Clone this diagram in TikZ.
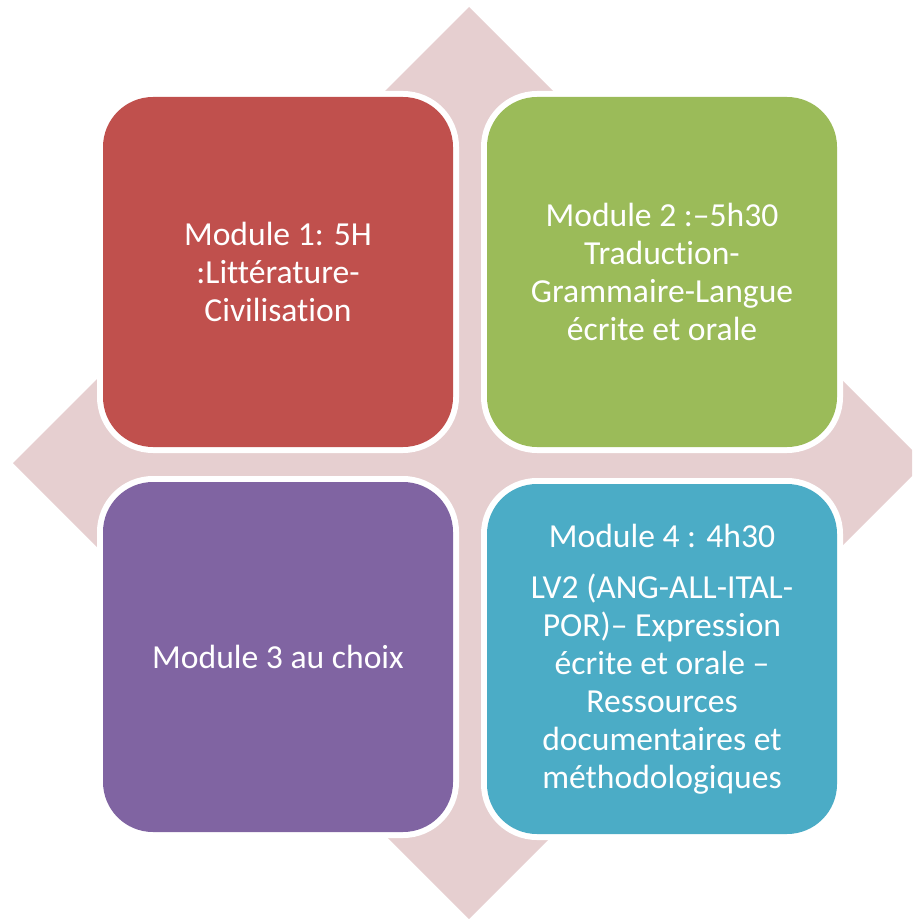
\documentclass[tikz,border=0pt]{standalone}
\usepackage{fontspec}
\setmainfont[Ligatures={NoCommon}]{Carlito}
\definecolor{cred}{HTML}{C0504D}
\definecolor{cgreen}{HTML}{9BBB59}
\definecolor{cpurple}{HTML}{8064A2}
\definecolor{cteal}{HTML}{4BACC6}
\definecolor{cdiam}{HTML}{E6CFD0}
\tikzset{
  modbox/.style={rectangle, rounded corners=37.5pt, minimum width=262.5pt, minimum height=262.5pt,
    inner sep=0pt, preaction={draw=white, line width=9pt}, text=white, align=center,
    font=\fontsize{25.2pt}{28.4pt}\selectfont}
}
\begin{document}
\begin{tikzpicture}[x=0.75pt,y=-0.75pt]
\useasboundingbox (0,0) rectangle (912,919);
\begin{scope}
\clip (0,0) rectangle (912,919);
\fill[cdiam] (469,7) -- (925,463) -- (469,919) -- (13,463) -- cycle;
\end{scope}
\node[modbox, fill=cred] (m1) at (278,272) {Module 1: 5H\\:Littérature-\\Civilisation};
\node[modbox, fill=cgreen] (m2) at (662,272) {Module 2 :–5h30\\Traduction-\\Grammaire-Langue\\écrite et orale};
\node[modbox, fill=cpurple] (m3) at (278,657) {Module 3 au choix};
\node[modbox, fill=cteal] (m4) at (662,659) {Module 4 : 4h30\\[10pt]LV2 (ANG-ALL-ITAL-\\POR)– Expression\\écrite et orale –\\Ressources\\documentaires et\\méthodologiques};
\end{tikzpicture}
\end{document}
